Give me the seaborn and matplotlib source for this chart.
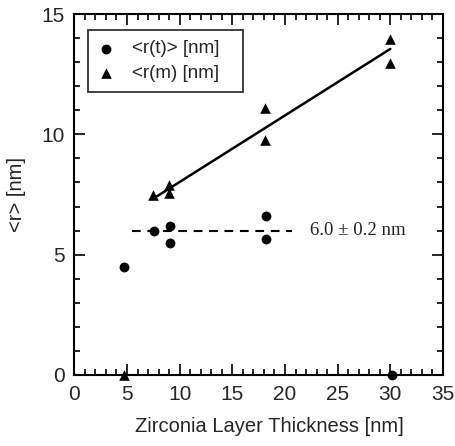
import matplotlib
matplotlib.use("Agg")
import matplotlib.pyplot as plt
import seaborn as sns
import pandas as pd
from matplotlib.ticker import MultipleLocator

# ---- data ----
rt_x = [4.7, 7.6, 9.1, 9.1, 18.2, 18.2, 30.2]
rt_y = [4.5, 6.0, 6.2, 5.5, 6.6, 5.65, 0.0]
rm_x = [4.7, 7.5, 9.0, 9.0, 18.1, 18.1, 30.0, 30.0]
rm_y = [0.0, 7.5, 7.9, 7.55, 11.1, 9.75, 13.95, 12.97]
fit_x = [7.83, 30.0]
fit_y = [7.42, 13.55]
mean_x = [5.45, 20.65]
mean_y = [6.0, 6.0]
mean_label = "6.0 \u00b1 0.2 nm"
label_t = "<r(t)> [nm]"
label_m = "<r(m) [nm]"
x_ticks = [0, 5, 10, 15, 20, 25, 30, 35]
y_ticks = [0, 5, 10, 15]

sns.set_theme(style="white")
plt.rcParams['font.family'] = ['Liberation Sans', 'DejaVu Sans']

fig = plt.figure(figsize=(4.56, 4.46), dpi=100)
ax = fig.add_axes([74.3 / 456, (446 - 375) / 446, 368.7 / 456, 361 / 446])

df_t = pd.DataFrame({"x": rt_x, "y": rt_y})
df_m = pd.DataFrame({"x": rm_x, "y": rm_y})

sns.lineplot(x=fit_x, y=fit_y, ax=ax, color="black", lw=1.8, zorder=2)
sns.lineplot(x=mean_x, y=mean_y, ax=ax, color="black", lw=1.5,
             linestyle=(0, (4.2, 3.2)), zorder=2)

sns.scatterplot(data=df_t, x="x", y="y", ax=ax, marker="o", color="black",
                s=50, edgecolor="black", linewidth=0, label=label_t,
                zorder=3)
sns.scatterplot(data=df_m, x="x", y="y", ax=ax, marker="^", color="black",
                s=58, edgecolor="black", linewidth=0, label=label_m,
                zorder=3)
for c in ax.collections:
    c.set_clip_on(False)

ax.text(22.4, 6.0, mean_label, family="Liberation Serif", fontsize=13.5,
        va="center", ha="left", color="#222222")

ax.set_xlim(0, 35)
ax.set_ylim(0, 15)
ax.set_xticks(x_ticks)
ax.set_yticks(y_ticks)
ax.xaxis.set_minor_locator(MultipleLocator(1))
ax.yaxis.set_minor_locator(MultipleLocator(1))
ax.tick_params(which="both", direction="in", top=True, right=True,
               bottom=True, left=True, color="black", width=1.2)
ax.tick_params(which="major", length=8, labelsize=15, pad=7)
ax.tick_params(which="minor", length=4.5)
for s in ax.spines.values():
    s.set_color("black")
    s.set_linewidth(1.5)

ax.set_xlabel("Zirconia Layer Thickness [nm]", fontsize=14.5)
ax.set_ylabel("<r> [nm]", fontsize=14.5)
ax.xaxis.set_label_coords(0.53, -0.115)
ax.yaxis.set_label_coords(-0.13, 0.5)

leg_x0 = 13.4 / 368.7
leg_w = 155.0 / 368.7
leg_top = 1 - 16 / 361
leg = ax.legend(loc="upper left", bbox_to_anchor=(leg_x0, leg_top - 0.2, leg_w, 0.2),
                mode="expand", frameon=True, fancybox=False, fontsize=13.5,
                handletextpad=1.0, borderpad=0.55, labelspacing=0.4,
                handlelength=0.8, borderaxespad=0)
leg.get_frame().set_edgecolor("black")
leg.get_frame().set_linewidth(1.3)

fig.savefig("out.png", dpi=100)
